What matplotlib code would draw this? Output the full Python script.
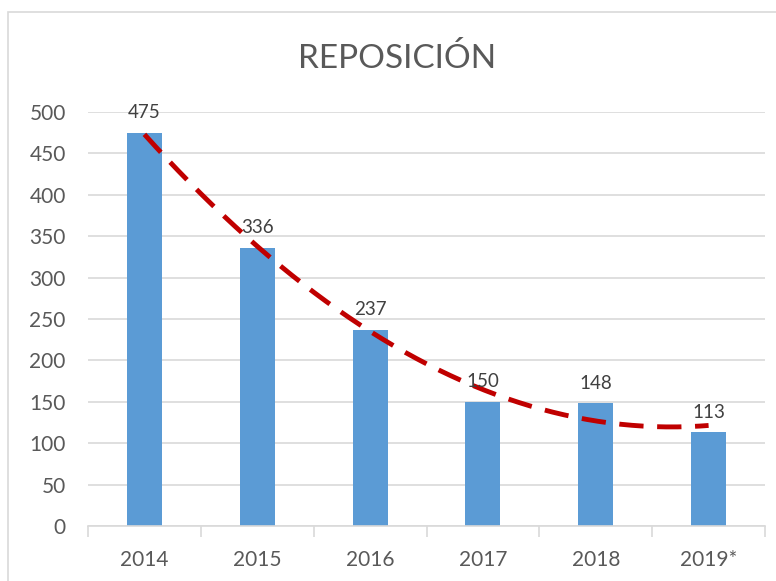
import matplotlib.pyplot as plt
import numpy as np
from matplotlib.patches import Rectangle

years = ["2014", "2015", "2016", "2017", "2018", "2019*"]
valores = [475, 336, 237, 150, 148, 113]

plt.rcParams['font.family'] = ['Lato', 'DejaVu Sans']

fig = plt.figure(figsize=(7.76, 5.81), dpi=100)
# marco del grafico
fig.patches.append(Rectangle((8/776, -0.02), 1.0, 1 - 12/581 + 0.02, transform=fig.transFigure,
                             fill=False, edgecolor="#D9D9D9", linewidth=1.2))
ax = fig.add_axes([88/776, 1 - 526/581, 677/776, (526 - 112)/581])

x = np.arange(len(years))
ax.bar(x, valores, width=0.31, color="#5B9BD5", zorder=2)
for xi, v in zip(x, valores):
    ax.text(xi, v + 14, str(v), ha="center", va="bottom", fontsize=13.5, color="#404040", zorder=4)

# linea de tendencia polinomica (orden 2)
coef = np.polyfit(x + 1, valores, 2)
xs = np.linspace(0, len(years) - 1, 200)
ax.plot(xs, np.polyval(coef, xs + 1), color="#C00000", linewidth=3.5,
        dashes=(5, 2.8), zorder=3)

ax.set_xlim(-0.5, len(years) - 0.5)
ax.set_ylim(0, 500)
ax.set_yticks(range(0, 501, 50))
ax.yaxis.grid(True, color="#D9D9D9", linewidth=1.2, zorder=0)
ax.set_axisbelow(True)
for s in ["top", "right", "left"]:
    ax.spines[s].set_visible(False)
ax.spines["bottom"].set_color("#D9D9D9")
ax.spines["bottom"].set_linewidth(1.2)
ax.tick_params(axis="y", length=0, labelsize=15, labelcolor="#595959", pad=16)
ax.set_xticks(x)
ax.set_xticklabels(years)
ax.tick_params(axis="x", length=0, labelsize=15, labelcolor="#595959", pad=17)
ax.set_xticks(np.arange(-0.5, len(years)), minor=True)
ax.tick_params(axis="x", which="minor", length=8, color="#D9D9D9", width=1.2)

fig.text(397/776, 1 - 58/581, "REPOSICIÓN", ha="center", va="center", fontsize=24, color="#595959")

fig.savefig("out.png", dpi=100)
